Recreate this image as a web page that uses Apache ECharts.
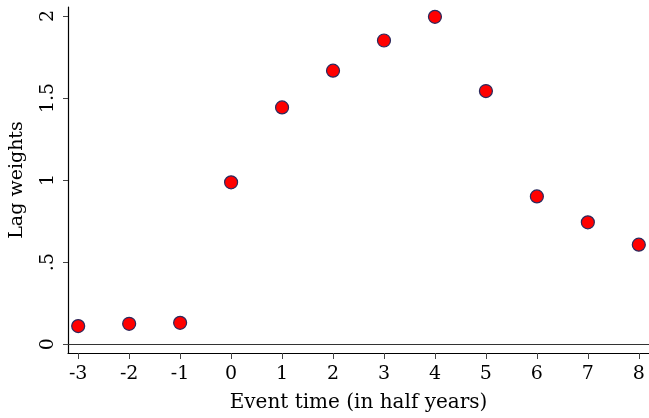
<!DOCTYPE html>
<html>
<head>
<meta charset="utf-8">
<script src="https://cdn.jsdelivr.net/npm/echarts@6/dist/echarts.min.js"></script>
<style>
  html, body { margin: 0; padding: 0; background: #fff; }
  #chart { width: 649px; height: 418px; }
</style>
</head>
<body>
<div id="chart"></div>
<script>
// Event time, in half years relative to the event
const eventTimes = [-3, -2, -1, 0, 1, 2, 3, 4, 5, 6, 7, 8];
// Estimated lag weight at each event time
const lagWeights = [0.11, 0.124, 0.13, 0.986, 1.442, 1.666, 1.85, 1.994, 1.542, 0.90, 0.742, 0.606];
// Tick positions on each axis
const xTicks = [-3, -2, -1, 0, 1, 2, 3, 4, 5, 6, 7, 8];
const yTicks = [0, 0.5, 1, 1.5, 2];
const yTickLabels = ['0', '.5', '1', '1.5', '2'];

const points = eventTimes.map((t, i) => [t, lagWeights[i]]);
const font = 'DejaVu Serif';

const chart = echarts.init(document.getElementById('chart'), null, { renderer: 'canvas' });
chart.setOption({
  animation: false,
  backgroundColor: '#ffffff',
  grid: { left: 67.5, right: 0, top: 7, bottom: 59, containLabel: false },
  xAxis: {
    type: 'value',
    min: -3.2,
    max: 8.2,
    name: 'Event time (in half years)',
    nameLocation: 'middle',
    nameGap: 40,
    nameTextStyle: { fontFamily: font, fontSize: 20, color: '#000' },
    axisLine: { show: true, onZero: false, lineStyle: { color: '#000', width: 1.2 } },
    axisTick: { show: true, length: 6, customValues: xTicks, lineStyle: { color: '#444', width: 1 } },
    axisLabel: { customValues: xTicks, margin: 12, fontFamily: font, fontSize: 19, color: '#000' },
    splitLine: { show: false }
  },
  yAxis: {
    type: 'value',
    min: -0.054,
    max: 2.054,
    name: 'Lag weights',
    nameLocation: 'middle',
    nameRotate: 90,
    nameGap: 41,
    nameTextStyle: { fontFamily: font, fontSize: 19, color: '#000' },
    axisLine: { show: true, onZero: false, lineStyle: { color: '#000', width: 1.2 } },
    axisTick: { show: true, length: 5, customValues: yTicks, lineStyle: { color: '#444', width: 1 } },
    axisLabel: {
      customValues: yTicks,
      rotate: 90,
      margin: 10,
      fontFamily: font,
      fontSize: 19,
      color: '#000',
      formatter: v => yTickLabels[yTicks.indexOf(+v.toFixed(2))] ?? ''
    },
    splitLine: { show: false }
  },
  series: [{
    type: 'scatter',
    data: points,
    symbol: 'circle',
    symbolSize: 13,
    itemStyle: { color: '#ff0000', borderColor: '#2a2a5e', borderWidth: 1.2, opacity: 1 },
    markLine: {
      silent: true,
      symbol: 'none',
      label: { show: false },
      lineStyle: { color: '#333', width: 1.2, type: 'solid' },
      data: [{ yAxis: 0 }]
    },
    z: 3
  }]
});
</script>
</body>
</html>
